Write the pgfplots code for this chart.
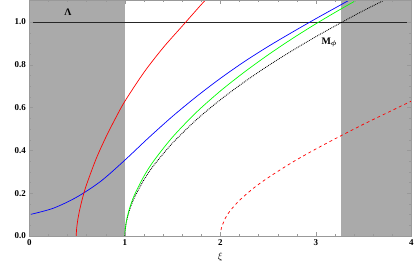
\documentclass[border=0pt]{standalone}
\usepackage{pgfplots}
\pgfplotsset{compat=1.18}
\usepackage{bm}
\usepackage{fontspec}
\setmainfont{Liberation Serif}
\definecolor{shade}{rgb}{0.667,0.667,0.667}
\definecolor{framec}{rgb}{0.6,0.6,0.6}
\begin{document}
\begin{tikzpicture}
\begin{axis}[
  scale only axis, width=384pt, height=237pt,
  xmin=0, xmax=4, ymin=0, ymax=1.102,
  xtick={0,1,2,3,4}, ytick={0,0.2,0.4,0.6,0.8,1.0},
  minor x tick num=4, minor y tick num=3,
  tick align=inside, major tick length=4pt, minor tick length=2pt,
  tick style={framec, line width=0.4pt},
  axis line style={framec, line width=0.5pt},
  /pgf/number format/assume math mode=true,
  xticklabel style={font=\fontsize{9}{10}\selectfont\bfseries},
  yticklabel style={font=\fontsize{9}{10}\selectfont\bfseries, /pgf/number format/fixed, /pgf/number format/fixed zerofill, /pgf/number format/precision=1},
  xlabel={$\xi$},
  xlabel style={font=\fontsize{10}{11}\selectfont},
  axis on top=true,
  clip=true,
]
% shaded regions
\addplot[fill=shade, draw=none] coordinates {(0,0) (1,0) (1,1.2) (0,1.2)} -- cycle;
\addplot[fill=shade, draw=none] coordinates {(3.26,0) (4,0) (4,1.2) (3.26,1.2)} -- cycle;
% horizontal Lambda line
\addplot[black!85, line width=0.7pt] coordinates {(0,1) (4,1)};
% red dashed
\addplot[red, dashed, line width=0.7pt, smooth] coordinates {
(2,0) (2.01,0.0364) (2.05,0.082) (2.1,0.117) (2.2,0.167) (2.35,0.225) (2.5,0.273)
(2.75,0.344) (3.0,0.407) (3.25,0.466) (3.5,0.523) (3.75,0.577) (4,0.631)};
% black dotted
\addplot[black, densely dotted, line width=0.85pt, smooth] coordinates {
(1,0) (1.001,0.0143) (1.005,0.0347) (1.01,0.0508) (1.02,0.0744) (1.05,0.123) (1.1,0.180)
(1.2,0.263) (1.3,0.329) (1.5,0.435) (1.75,0.544) (2.0,0.637) (2.25,0.720) (2.5,0.796)
(2.75,0.866) (3.0,0.932) (3.25,0.994) (3.5,1.054) (3.75,1.110)};
% green
\addplot[green, line width=0.7pt, smooth] coordinates {
(1,0) (1.001,0.0153) (1.005,0.037) (1.01,0.054) (1.02,0.079) (1.05,0.131) (1.1,0.192)
(1.2,0.280) (1.3,0.350) (1.5,0.463) (1.75,0.579) (2.0,0.678) (2.25,0.766) (2.5,0.847)
(2.75,0.922) (3.0,0.992) (3.25,1.058) (3.5,1.121)};
% blue
\addplot[blue, line width=0.7pt, smooth] coordinates {
(0,0.1) (0.25,0.13) (0.5,0.183) (0.75,0.257) (1.0,0.355) (1.25,0.46) (1.5,0.56)
(1.75,0.652) (2.0,0.737) (2.25,0.815) (2.5,0.886) (2.75,0.952) (3.0,1.016)
(3.25,1.078) (3.5,1.14)};
% red solid
\addplot[red, line width=0.7pt, smooth] coordinates {
(0.49,0) (0.495,0.035) (0.50,0.054) (0.51,0.084) (0.53,0.129) (0.56,0.183) (0.6,0.242)
(0.7,0.362) (0.8,0.461) (0.9,0.549) (1.0,0.63) (1.2,0.765) (1.4,0.88) (1.6,0.981)
(1.8,1.082) (1.9,1.13)};
\node[font=\fontsize{10}{11}\selectfont\bfseries] at (axis cs:0.404,1.045) {Λ};
\node[font=\fontsize{10}{11}\selectfont\bfseries] at (axis cs:3.14,0.905) {M$_{\bm{\phi}}$};
\end{axis}
\path (current axis.south west) ++(-29.5pt,-29.7pt);
\path (current axis.north east) ++(3.5pt,0pt);
\end{tikzpicture}
\end{document}
